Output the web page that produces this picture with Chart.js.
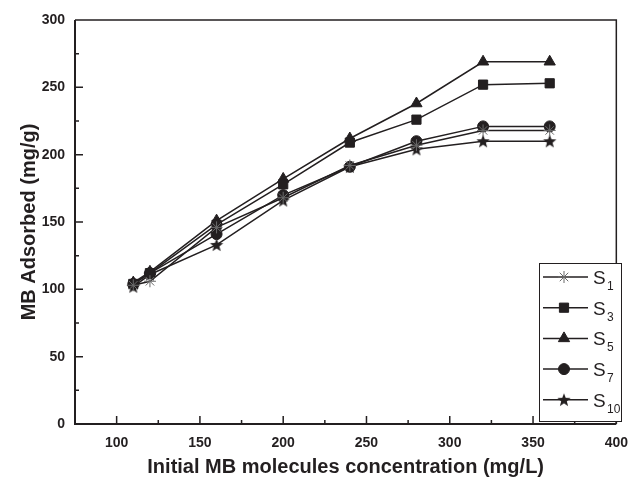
<!DOCTYPE html>
<html>
<head>
<meta charset="utf-8">
<script src="https://cdn.jsdelivr.net/npm/chart.js@4.4.1/dist/chart.umd.min.js"></script>
<style>
  html, body { margin: 0; padding: 0; background: #fff; }
</style>
</head>
<body>
<canvas id="cvn" width="639" height="480"></canvas>
<script>
// data
const concentration = [110, 120, 160, 200, 240, 280, 320, 360];
const s1 = [103, 106, 146, 168, 192, 207, 218, 218];
const s3 = [104, 112, 148, 178, 209, 226, 252, 253];
const s5 = [105, 113, 151, 182, 212, 238, 269, 269];
const s7 = [104, 112, 141, 170, 191, 210, 221, 221];
const s10 = [102, 111, 133, 166, 191, 204, 210, 210];
const subscripts = ["1", "3", "5", "7", "10"];
const xTickValues = [100, 150, 200, 250, 300, 350, 400];

const ink = "#231f20";
const font = "'Liberation Sans', Arial, sans-serif";

function starImage(r) {
  var c = document.createElement("canvas");
  var size = Math.ceil(r * 2) + 2;
  c.width = size;
  c.height = size;
  var g = c.getContext("2d");
  g.fillStyle = ink;
  g.beginPath();
  for (var i = 0; i < 10; i++) {
    var rad = i % 2 == 0 ? r : r * 0.42;
    var a = -Math.PI / 2 + (i * Math.PI) / 5;
    var px = size / 2 + rad * Math.cos(a);
    var py = size / 2 + rad * Math.sin(a) + 0.5;
    if (i == 0) g.moveTo(px, py);
    else g.lineTo(px, py);
  }
  g.closePath();
  g.fill();
  return c;
}

function pts(values) {
  return concentration.map((x, i) => ({ x: x, y: values[i] }));
}

function series(label, values, style, radius, extra) {
  return Object.assign({
    label: label,
    data: pts(values),
    borderColor: ink,
    backgroundColor: ink,
    borderWidth: 1.5,
    pointStyle: style,
    pointRadius: radius,
    pointHoverRadius: radius,
    pointBorderWidth: 1,
    tension: 0,
    fill: false,
  }, extra || {});
}

const datasets = [
  series("S1", s1, "star", 6, { pointBorderColor: "#6a6a6a", pointBorderWidth: 1 }),
  series("S3", s3, "rect", 6.5),
  series("S5", s5, "triangle", 6.5),
  series("S7", s7, "circle", 5.5),
  series("S10", s10, starImage(7), 7),
];

// frame, inward ticks and minor ticks
const framePlugin = {
  id: "frame",
  afterDatasetsDraw(chart) {
    const ctx = chart.ctx;
    const a = chart.chartArea;
    const xs = chart.scales.x;
    const ys = chart.scales.y;
    ctx.save();
    ctx.strokeStyle = ink;
    ctx.lineWidth = 1.5;
    ctx.beginPath();
    ctx.moveTo(a.left, a.top);
    ctx.lineTo(a.right, a.top);
    ctx.lineTo(a.right, a.bottom);
    ctx.stroke();
    ctx.lineWidth = 2;
    ctx.beginPath();
    ctx.moveTo(a.left, a.top);
    ctx.lineTo(a.left, a.bottom);
    ctx.lineTo(a.right, a.bottom);
    ctx.stroke();

    ctx.lineWidth = 1.5;
    ctx.beginPath();
    for (let v = 75; v <= 400; v += 25) {
      const px = xs.getPixelForValue(v);
      const len = v % 50 == 0 ? 8 : 4;
      ctx.moveTo(px, a.bottom);
      ctx.lineTo(px, a.bottom - len);
    }
    for (let v = 25; v < 300; v += 25) {
      const py = ys.getPixelForValue(v);
      const len = v % 50 == 0 ? 8 : 4;
      ctx.moveTo(a.left, py);
      ctx.lineTo(a.left + len, py);
    }
    ctx.stroke();
    ctx.restore();
  },
};

// legend box with subscripts
const legendPlugin = {
  id: "subLegend",
  afterDraw(chart) {
    const ctx = chart.ctx;
    const box = { left: 539, top: 263, right: 621, bottom: 421 };
    ctx.save();
    ctx.fillStyle = "#fff";
    ctx.fillRect(box.left, box.top, box.right - box.left, box.bottom - box.top);
    ctx.strokeStyle = ink;
    ctx.lineWidth = 1;
    ctx.strokeRect(box.left + 0.5, box.top + 0.5, box.right - box.left, box.bottom - box.top);
    chart.data.datasets.forEach((ds, i) => {
      const y = 277 + i * 30.7;
      ctx.strokeStyle = ink;
      ctx.lineWidth = 1.5;
      ctx.beginPath();
      ctx.moveTo(543, y);
      ctx.lineTo(588, y);
      ctx.stroke();
      ctx.fillStyle = ink;
      ctx.strokeStyle = ds.pointBorderColor || ink;
      ctx.lineWidth = ds.pointBorderWidth;
      Chart.helpers.drawPoint(ctx, { pointStyle: ds.pointStyle, radius: ds.pointRadius, borderWidth: ds.pointBorderWidth, rotation: 0 }, 564, y);
      ctx.fillStyle = ink;
      ctx.textBaseline = "alphabetic";
      ctx.textAlign = "left";
      ctx.font = "19px " + font;
      ctx.fillText("S", 593, y + 7);
      ctx.font = "12px " + font;
      ctx.fillText(subscripts[i], 607, y + 13);
    });
    ctx.restore();
  },
};

const config = {
  type: "line",
  data: { datasets: datasets },
  options: {
    responsive: false,
    animation: false,
    layout: { padding: { top: 20, right: 13, left: 0, bottom: 0 } },
    plugins: {
      legend: { display: false },
      tooltip: { enabled: false },
    },
    scales: {
      x: {
        type: "linear",
        min: 75,
        max: 400,
        grid: { display: false, drawTicks: false },
        border: { display: false },
        afterBuildTicks(scale) {
          scale.ticks = xTickValues.map((v) => ({ value: v }));
        },
        afterFit(scale) {
          scale.height = 56;
        },
        ticks: {
          padding: 11,
          color: ink,
          maxRotation: 0,
          font: { family: font, size: 14, weight: "bold" },
        },
        title: {
          display: true,
          text: "Initial MB molecules concentration (mg/L)",
          color: ink,
          font: { family: font, size: 20, weight: "bold" },
          padding: { top: 0, bottom: 1 },
        },
      },
      y: {
        min: 0,
        max: 300,
        grid: { display: false, drawTicks: false },
        border: { display: false },
        afterFit(scale) {
          scale.width = 75;
        },
        ticks: {
          stepSize: 50,
          padding: 10,
          color: ink,
          font: { family: font, size: 14, weight: "bold" },
        },
        title: {
          display: true,
          text: "MB Adsorbed (mg/g)",
          color: ink,
          font: { family: font, size: 20, weight: "bold" },
          padding: { top: 17, bottom: 0 },
        },
      },
    },
  },
  plugins: [framePlugin, legendPlugin],
};

new Chart(document.getElementById("cvn").getContext("2d"), config);
</script>
</body>
</html>
